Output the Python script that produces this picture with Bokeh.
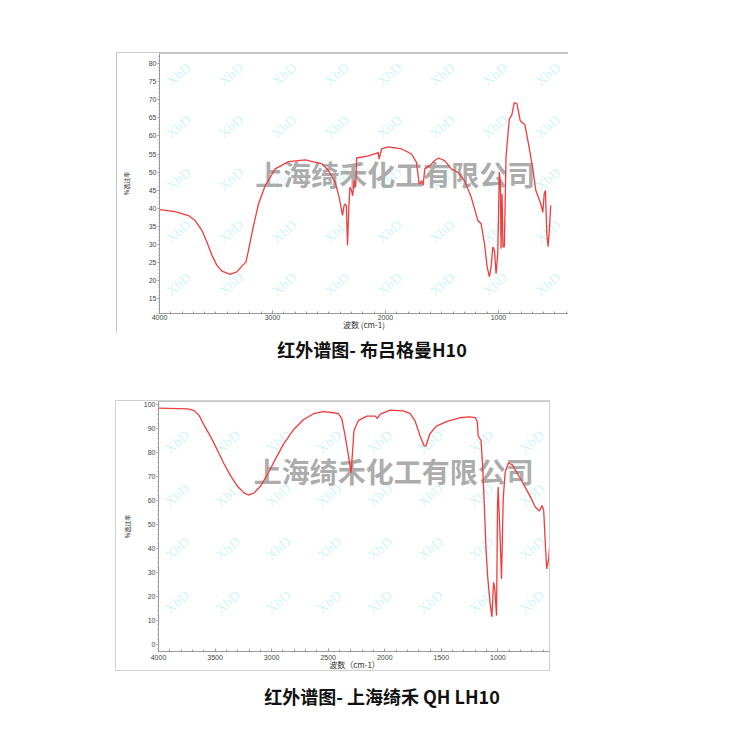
import numpy as np
from bokeh.plotting import figure
from bokeh.models import Div, Label, SingleIntervalTicker, Range1d, ColumnDataSource
from bokeh.layouts import column
from bokeh.core.properties import value
from bokeh.embed import file_html
from bokeh.resources import INLINE

# ---------------- data ----------------
top_wavenumber = [4000, 3861, 3743, 3684, 3625, 3580, 3536, 3492, 3448, 3374, 3315, 3265, 3235,
                  3212, 3177, 3124, 3064, 2976, 2858, 2710, 2563, 2504, 2445, 2410, 2380, 2366,
                  2354, 2346, 2336, 2324, 2314, 2300, 2290, 2276, 2264, 2255, 2151, 2063, 2057,
                  2034, 1975, 1857, 1769, 1725, 1702, 1681, 1667, 1652, 1608, 1564, 1529, 1476,
                  1417, 1358, 1300, 1241, 1182, 1153, 1124, 1100, 1080, 1065, 1050, 1036, 1021,
                  1006, 992, 983, 977, 968, 960, 948, 933, 904, 883, 860, 836, 807, 766, 728,
                  698, 669, 625, 607, 595, 584, 572, 560, 548, 537]
top_transmittance = [39.6, 39.1, 38.0, 36.6, 33.9, 30.6, 27.0, 24.2, 22.6, 21.7, 22.4, 24.2, 25.1,
                     28.4, 33.9, 41.2, 46.3, 50.9, 52.9, 53.4, 52.3, 50.4, 47.2, 43.1, 38.0, 40.8,
                     41.2, 40.6, 29.8, 40.3, 45.8, 44.9, 43.5, 47.7, 45.8, 53.9, 54.5, 55.4, 53.6,
                     56.4, 57.0, 56.4, 55.0, 52.7, 46.7, 47.6, 46.3, 50.9, 51.8, 53.2, 53.9, 53.2,
                     50.9, 49.9, 47.6, 43.1, 36.6, 35.7, 30.2, 23.8, 21.0, 23.8, 29.3, 28.4, 21.9,
                     27.5, 50.0, 46.7, 28.8, 44.0, 29.3, 29.3, 54.1, 64.7, 65.6, 69.2, 68.9, 64.2,
                     63.1, 56.8, 51.3, 44.9, 41.2, 38.9, 44.0, 44.9, 32.9, 29.4, 34.8, 40.8]

bottom_wavenumber = [4000, 3742, 3684, 3640, 3596, 3537, 3478, 3420, 3361, 3302, 3244, 3206, 3157,
                     3098, 3039, 2966, 2893, 2805, 2717, 2629, 2542, 2454, 2410, 2380, 2351, 2336,
                     2316, 2298, 2287, 2272, 2234, 2160, 2083, 2068, 2039, 1952, 1835, 1777, 1733,
                     1689, 1654, 1637, 1601, 1543, 1455, 1339, 1251, 1199, 1181, 1175, 1163, 1149,
                     1135, 1120, 1105, 1091, 1070, 1053, 1038, 1027, 1012, 1003, 997, 992, 983, 968,
                     953, 936, 907, 872, 799, 726, 668, 633, 610, 595, 580, 568, 551, 538]
bottom_transmittance = [98.6, 98.3, 97.6, 95.5, 91.4, 86.5, 80.9, 75.3, 70.2, 66.0, 63.2, 62.3, 63.1,
                        66.0, 70.7, 77.4, 83.7, 89.7, 93.9, 96.3, 97.2, 96.7, 96.3, 94.2, 87.2, 83.0,
                        77.4, 71.6, 78.8, 89.3, 93.4, 95.3, 95.3, 94.3, 96.1, 97.8, 97.5, 96.4, 93.4,
                        87.2, 83.0, 82.7, 87.9, 91.1, 93.0, 94.6, 95.0, 94.7, 92.7, 87.2, 86.1, 85.1,
                        74.6, 57.9, 39.7, 28.6, 17.4, 11.4, 25.8, 23.0, 11.9, 58.6, 65.6, 58.6, 48.1,
                        27.2, 60.7, 71.8, 75.7, 74.9, 69.0, 62.8, 57.2, 55.6, 57.9, 55.8, 41.1, 31.4,
                        35.6, 43.9]

top_title = "红外谱图- 布吕格曼H10"
bottom_title = "红外谱图- 上海绮禾 QH LH10"
watermark_text = "上海绮禾化工有限公司"
stamp_text = "XbD"
top_x_label = "波数 (cm-1)"
bottom_x_label = "波数（cm-1）"
y_label = "%透过率"

# ranges / ticks
top_x_range = (4000, 380)
top_y_range = (10.9, 82.8)
bottom_x_range = (4000, 535)
bottom_y_range = (-3.1, 101.4)
top_watermark_pos = (1914, 49.6)
bottom_watermark_pos = (1920, 72.4)
# faint repeated stamp grid (start, step, count) in data units
top_stamp_x = (3830, -467, 8)
top_stamp_y = (77.0, -14.5, 5)
bottom_stamp_x = (3835, -448, 8)
bottom_stamp_y = (84.5, -22.3, 4)

LINE_COLOR = "#f03c3c"
AXIS_COLOR = "#9a9a9a"
TICK_FONT = "Liberation Sans"
CJK_FONT = "Noto Sans CJK SC"


def make_chart(xs, ys, xr, yr, xint, xminor, yint, yminor, xlabel, wm_pos, sx, sy,
               width, height, mleft, mright, mtop, mbottom, margin, border_css,
               xstand, xlabstand, ylabstand):
    p = figure(width=width, height=height, output_backend="svg", toolbar_location=None,
               x_range=Range1d(*xr), y_range=Range1d(*yr),
               min_border_left=mleft, min_border_right=mright,
               min_border_top=mtop, min_border_bottom=mbottom,
               background_fill_color="white", border_fill_color="white")
    p.margin = margin
    p.styles = border_css
    p.grid.visible = False
    p.outline_line_color = "#c4c4c4"
    p.outline_line_width = 1

    gx = sx[0] + sx[1] * np.arange(sx[2])
    gy = sy[0] + sy[1] * np.arange(sy[2])
    GX, GY = np.meshgrid(gx, gy)
    stamps = ColumnDataSource(dict(x=GX.ravel(), y=GY.ravel(),
                                   t=[stamp_text] * GX.size))
    p.text("x", "y", text="t", source=stamps, text_font=value("Liberation Serif"),
           text_font_size="14px", text_color="#c4f2f2", text_alpha=0.75, angle=0.7,
           text_align="center", text_baseline="middle", level="underlay")

    wm = Label(x=wm_pos[0], y=wm_pos[1], text=watermark_text, text_font=CJK_FONT,
               text_font_size="28px", text_font_style="bold", text_color="#959595",
               text_alpha=0.8, text_align="center", text_baseline="middle", level="underlay")
    p.add_layout(wm)

    p.line(xs, ys, line_color=LINE_COLOR, line_width=1.3)

    p.xaxis.ticker = SingleIntervalTicker(interval=xint, num_minor_ticks=xminor)
    p.yaxis.ticker = SingleIntervalTicker(interval=yint, num_minor_ticks=yminor)
    for ax in (p.xaxis[0], p.yaxis[0]):
        ax.axis_line_color = AXIS_COLOR
        ax.major_tick_line_color = AXIS_COLOR
        ax.minor_tick_line_color = AXIS_COLOR
        ax.major_label_text_font = TICK_FONT
        ax.major_label_text_font_size = "7px"
        ax.major_label_text_color = "#444444"
        ax.axis_label_text_font = CJK_FONT
        ax.axis_label_text_font_style = "normal"
        ax.axis_label_text_color = "#333333"
    xa = p.xaxis[0]
    xa.major_tick_in = 3
    xa.major_tick_out = 0
    xa.minor_tick_in = 2
    xa.minor_tick_out = 0
    xa.major_label_standoff = xstand
    xa.axis_label = xlabel
    xa.axis_label_text_font_size = "8px"
    xa.axis_label_standoff = xlabstand
    ya = p.yaxis[0]
    ya.major_tick_in = 0
    ya.major_tick_out = 2
    ya.minor_tick_in = 0
    ya.minor_tick_out = 1
    ya.major_label_standoff = 1
    ya.axis_label = y_label
    ya.axis_label_text_font_size = "6px"
    ya.axis_label_standoff = ylabstand
    return p


p1 = make_chart(top_wavenumber, top_transmittance, top_x_range, top_y_range,
                1000, 10, 5, 5, top_x_label, top_watermark_pos, top_stamp_x, top_stamp_y,
                width=452, height=281, mleft=42, mright=1, mtop=0, mbottom=21,
                margin=(52, 0, 0, 116),
                border_css={"border-left": "1px solid #c8c8c8", "border-top": "1px solid #c8c8c8"},
                xstand=1, xlabstand=-4, ylabstand=15)

p2 = make_chart(bottom_wavenumber, bottom_transmittance, bottom_x_range, bottom_y_range,
                500, 5, 10, 5, bottom_x_label, bottom_watermark_pos, bottom_stamp_x, bottom_stamp_y,
                width=435, height=271, mleft=41, mright=0, mtop=0, mbottom=21,
                margin=(0, 0, 0, 115),
                border_css={"border": "1px solid #d0d0d0"},
                xstand=3, xlabstand=-4, ylabstand=9)

cap_style = ("font-family:'Noto Sans CJK SC';font-weight:bold;font-size:18px;color:#111;"
             "text-align:center;white-space:nowrap;width:742px;box-sizing:border-box;")
cap1 = Div(text=f'<div style="{cap_style}line-height:32px;padding-left:2px;">{top_title}</div>',
           width=742, height=67, margin=(0, 0, 0, 0))
cap2 = Div(text=f'<div style="{cap_style}line-height:50px;padding-left:22px;">{bottom_title}</div>',
           width=742, height=56, margin=(0, 0, 0, 0))

layout = column(p1, cap1, p2, cap2, spacing=0)

with open("out.html", "w") as f:
    f.write(file_html(layout, INLINE))
